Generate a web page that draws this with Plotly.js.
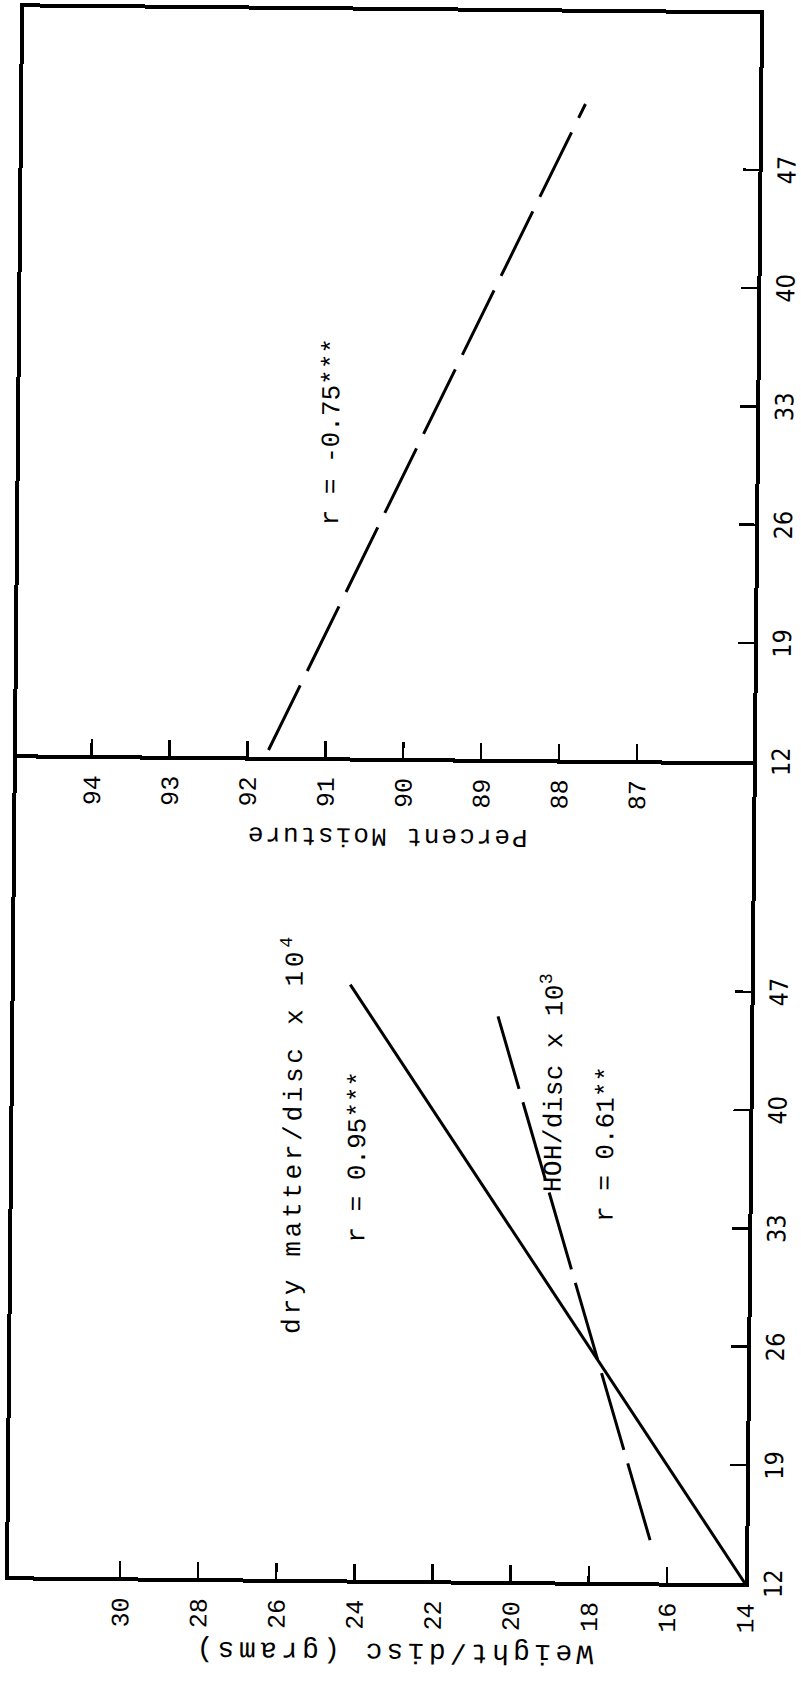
<!DOCTYPE html>
<html><head><meta charset="utf-8">
<script src="https://cdn.plot.ly/plotly-3.0.1.min.js"></script>
<style>
html,body{margin:0;padding:0;background:#fff;overflow:hidden;width:801px;height:1697px;}
#wrap{position:absolute;left:-448px;top:448px;width:1697px;height:801px;transform-origin:848.5px 400.5px;transform:rotate(-89.45deg);}
</style></head><body><div id="wrap"><div id="chart" style="width:1697px;height:801px;"></div></div>
<script>
// x-axis: days
const dayTicks = [12, 19, 26, 33, 40, 47];
const weightTicks = [14, 16, 18, 20, 22, 24, 26, 28, 30];
const moistureTicks = [87, 88, 89, 90, 91, 92, 93, 94];
// regression lines (end points)
const dryDays = [12, 47.2];
const dryWeight = [14, 24.25];
const hohDays = [14.5, 45.4];
const hohWeight = [16.44, 20.46];
const moistDays = [12.4, 50.8];
const moistPct = [91.73, 87.74];

const mono = 'Liberation Mono, Courier New, monospace';
const cond = 'DejaVu Sans Condensed, Liberation Sans Narrow, sans-serif';

const traces = [
  {x: dryDays, y: dryWeight, xaxis: 'x', yaxis: 'y', mode: 'lines', line: {color: '#000', width: 3}},
  {x: hohDays, y: hohWeight, xaxis: 'x', yaxis: 'y', mode: 'lines', line: {color: '#000', width: 3, dash: '80px,14px'}},
  {x: moistDays, y: moistPct, xaxis: 'x2', yaxis: 'y2', mode: 'lines', line: {color: '#000', width: 3, dash: '72px,16px'}}
];

const yDom = [0.06117, 0.98002];
const axCommon = {
  showline: true, linewidth: 4, linecolor: '#000', mirror: true,
  ticks: 'inside', ticklen: 16, tickwidth: 2.5, tickcolor: '#000',
  showgrid: false, zeroline: false, tickmode: 'array', fixedrange: true
};

const layout = {
  width: 1697, height: 801,
  margin: {l: 0, r: 0, t: 0, b: 0},
  paper_bgcolor: '#fff', plot_bgcolor: '#fff',
  showlegend: false,
  xaxis: Object.assign({}, axCommon, {domain: [0.06895, 0.55097], range: [12, 60.40], anchor: 'y',
    tickvals: dayTicks, ticktext: dayTicks.map(String), tickfont: {family: cond, size: 25, color: '#000'}, ticklabelstandoff: 3}),
  yaxis: Object.assign({}, axCommon, {domain: yDom, range: [14, 32.84], anchor: 'x',
    tickvals: weightTicks, ticktext: weightTicks.map(String), tickfont: {family: mono, size: 25, color: '#000'}, ticklabelstandoff: 11}),
  xaxis2: Object.assign({}, axCommon, {domain: [0.55333, 0.99352], range: [12, 56.2], anchor: 'y2',
    tickvals: dayTicks, ticktext: dayTicks.map(String), tickfont: {family: cond, size: 25, color: '#000'}, ticklabelstandoff: 3}),
  yaxis2: Object.assign({}, axCommon, {domain: yDom, range: [85.51, 94.96], anchor: 'x2',
    tickvals: moistureTicks, ticktext: moistureTicks.map(String), tickfont: {family: mono, size: 25, color: '#000'}, ticklabelstandoff: 11}),
  annotations: [
    {xref: 'paper', yref: 'paper', x: 0.0272, y: 0.4994, text: 'Weight/disc (grams)', textangle: -90,
      showarrow: false, xanchor: 'center', yanchor: 'middle', font: {family: mono, size: 28, color: '#000'}},
    {xref: 'paper', yref: 'paper', x: 0.5075, y: 0.518, text: 'Percent Moisture', textangle: -90,
      showarrow: false, xanchor: 'center', yanchor: 'middle', font: {family: mono, size: 26, color: '#000'}},
    {xref: 'x', yref: 'y', x: 28.7, y: 25.7, text: 'dry matter/disc x 10<sup>4</sup>', showarrow: false,
      xanchor: 'left', yanchor: 'middle', font: {family: mono, size: 26, color: '#000'}},
    {xref: 'x', yref: 'y', x: 31.8, y: 24.0, text: 'r = 0.95***', showarrow: false,
      xanchor: 'left', yanchor: 'middle', font: {family: mono, size: 26, color: '#000'}},
    {xref: 'x', yref: 'y', x: 35.1, y: 19.04, text: 'HOH/disc x 10<sup>3</sup>', showarrow: false,
      xanchor: 'left', yanchor: 'middle', font: {family: mono, size: 26, color: '#000'}},
    {xref: 'x', yref: 'y', x: 33.2, y: 17.65, text: 'r = 0.61**', showarrow: false,
      xanchor: 'left', yanchor: 'middle', font: {family: mono, size: 26, color: '#000'}},
    {xref: 'x2', yref: 'y2', x: 25.6, y: 90.96, text: 'r = -0.75***', showarrow: false,
      xanchor: 'left', yanchor: 'middle', font: {family: mono, size: 26, color: '#000'}}
  ]
};

// extra typewriter letter spacing (px) per annotation, same order as layout.annotations
const letterSpacing = [4.3, 2, 3.7, 0, 0.4, 0, 0];

Plotly.newPlot('chart', traces, layout, {staticPlot: true, displayModeBar: false}).then(function () {
  const texts = document.querySelectorAll('#chart .annotation-text');
  texts.forEach(function (t, i) {
    if (letterSpacing[i]) t.setAttribute('letter-spacing', letterSpacing[i] + 'px');
  });
});
</script></body></html>
